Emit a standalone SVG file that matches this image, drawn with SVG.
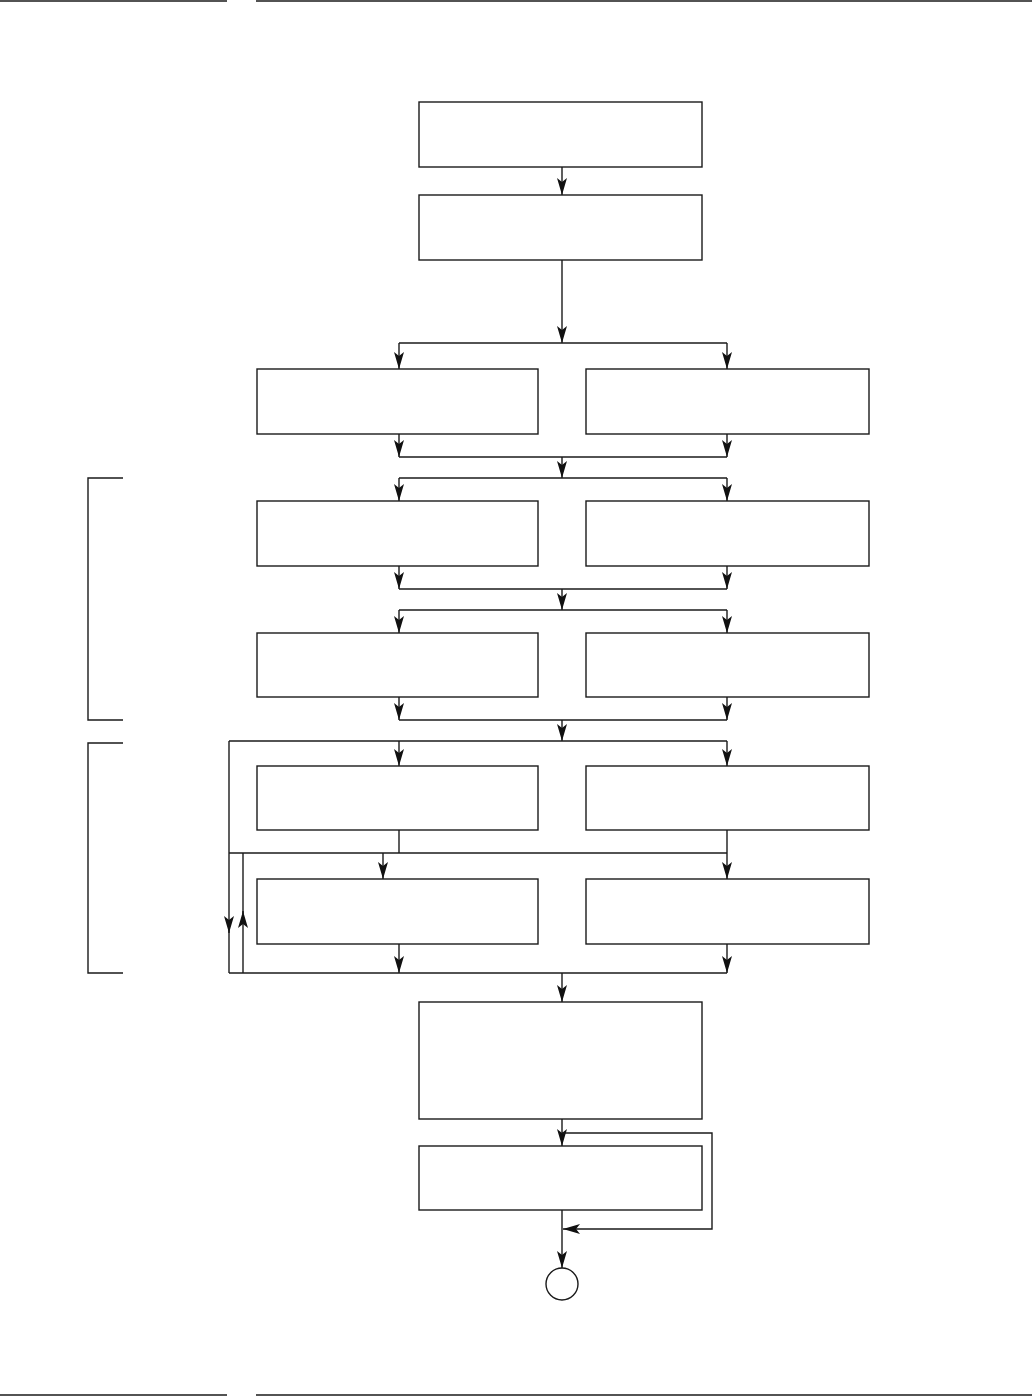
<svg xmlns="http://www.w3.org/2000/svg" width="1032" height="1396" viewBox="0 0 1032 1396">
<style>
.box{fill:#fff;stroke:#1a1a1a;stroke-width:1.4}
.ln{fill:none;stroke:#1a1a1a;stroke-width:1.4}
.ar{marker-end:url(#arr)}
.rule{stroke:#1a1a1a;stroke-width:1.5}
</style>
<defs>
<marker id="arr" markerUnits="userSpaceOnUse" markerWidth="20" markerHeight="14" viewBox="0 -7 20 14" refX="17" refY="0" orient="auto">
<path d="M17 0 L0 -5 L4 0 L0 5 Z" fill="#111"/>
</marker>
</defs>
<rect width="1032" height="1396" fill="#fff"/>
<g id="rules">
<line class="rule" x1="0" y1="1" x2="227" y2="1"/>
<line class="rule" x1="256" y1="1" x2="1032" y2="1"/>
<line class="rule" x1="0" y1="1395" x2="227" y2="1395"/>
<line class="rule" x1="256" y1="1395" x2="1032" y2="1395"/>
</g>
<g id="brackets">
<path class="ln" d="M123 478 H88 V720 H123"/>
<path class="ln" d="M123 743 H88 V973 H123"/>
</g>
<g id="nodes">
<g id="n1"><rect class="box" x="419" y="102" width="283" height="65"/></g>
<g id="n2"><rect class="box" x="419" y="195" width="283" height="65"/></g>
<g id="n3l"><rect class="box" x="257" y="369" width="281" height="65"/></g>
<g id="n3r"><rect class="box" x="586" y="369" width="283" height="65"/></g>
<g id="n4l"><rect class="box" x="257" y="501" width="281" height="65"/></g>
<g id="n4r"><rect class="box" x="586" y="501" width="283" height="65"/></g>
<g id="n5l"><rect class="box" x="257" y="633" width="281" height="64"/></g>
<g id="n5r"><rect class="box" x="586" y="633" width="283" height="64"/></g>
<g id="n6l"><rect class="box" x="257" y="766" width="281" height="64"/></g>
<g id="n6r"><rect class="box" x="586" y="766" width="283" height="64"/></g>
<g id="n7l"><rect class="box" x="257" y="879" width="281" height="65"/></g>
<g id="n7r"><rect class="box" x="586" y="879" width="283" height="65"/></g>
<g id="n8"><rect class="box" x="419" y="1002" width="283" height="117"/></g>
<g id="n9"><rect class="box" x="419" y="1146" width="283" height="64"/></g>
<g id="end"><circle class="box" cx="562" cy="1284" r="16"/></g>
</g>
<g id="connectors">
<line class="ln ar" x1="562" y1="167" x2="562" y2="195"/>
<line class="ln ar" x1="562" y1="260" x2="562" y2="343"/>
<path class="ln" d="M399 343 H727"/>
<line class="ln ar" x1="399" y1="343" x2="399" y2="369"/>
<line class="ln ar" x1="727" y1="343" x2="727" y2="369"/>

<line class="ln ar" x1="399" y1="434" x2="399" y2="457"/>
<line class="ln ar" x1="727" y1="434" x2="727" y2="457"/>
<path class="ln" d="M399 457 H727"/>
<line class="ln ar" x1="562" y1="457" x2="562" y2="478"/>
<path class="ln" d="M399 478 H727"/>
<line class="ln ar" x1="399" y1="478" x2="399" y2="501"/>
<line class="ln ar" x1="727" y1="478" x2="727" y2="501"/>

<line class="ln ar" x1="399" y1="566" x2="399" y2="589"/>
<line class="ln ar" x1="727" y1="566" x2="727" y2="589"/>
<path class="ln" d="M399 589 H727"/>
<line class="ln ar" x1="562" y1="589" x2="562" y2="610"/>
<path class="ln" d="M399 610 H727"/>
<line class="ln ar" x1="399" y1="610" x2="399" y2="633"/>
<line class="ln ar" x1="727" y1="610" x2="727" y2="633"/>

<line class="ln ar" x1="399" y1="697" x2="399" y2="720"/>
<line class="ln ar" x1="727" y1="697" x2="727" y2="720"/>
<path class="ln" d="M399 720 H727"/>
<line class="ln ar" x1="562" y1="720" x2="562" y2="741"/>
<path class="ln" d="M229 741 H727"/>
<line class="ln ar" x1="399" y1="741" x2="399" y2="766"/>
<line class="ln ar" x1="727" y1="741" x2="727" y2="766"/>

<line class="ln" x1="399" y1="830" x2="399" y2="853"/>
<path class="ln" d="M229 853 H727"/>
<line class="ln ar" x1="727" y1="830" x2="727" y2="879"/>
<line class="ln ar" x1="383" y1="853" x2="383" y2="879"/>

<line class="ln ar" x1="229" y1="741" x2="229" y2="933"/>
<line class="ln" x1="229" y1="930" x2="229" y2="973"/>
<line class="ln ar" x1="243" y1="973" x2="243" y2="911"/>
<line class="ln" x1="243" y1="915" x2="243" y2="853"/>

<line class="ln ar" x1="399" y1="944" x2="399" y2="973"/>
<line class="ln ar" x1="727" y1="944" x2="727" y2="973"/>
<path class="ln" d="M229 973 H727"/>
<line class="ln ar" x1="562" y1="973" x2="562" y2="1002"/>

<line class="ln ar" x1="562" y1="1119" x2="562" y2="1146"/>
<path class="ln" d="M562 1133 H712 V1229 H600"/>
<line class="ln ar" x1="600" y1="1229" x2="563" y2="1229"/>
<line class="ln ar" x1="562" y1="1210" x2="562" y2="1268"/>
</g>
</svg>
